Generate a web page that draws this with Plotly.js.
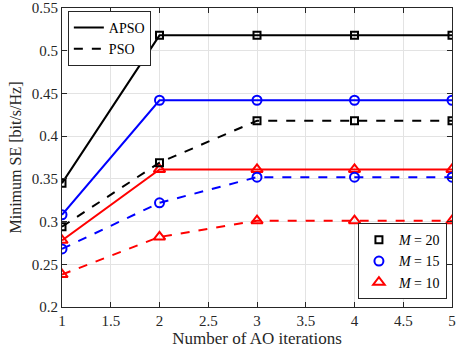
<!DOCTYPE html>
<html>
<head>
<meta charset="utf-8">
<script src="https://cdn.plot.ly/plotly-3.0.1.min.js"></script>
<style>body{margin:0;padding:0;background:#fff}#chart{width:456px;height:356px}</style>
</head>
<body>
<div id="chart"></div>
<script>
const iterations = [1, 2, 3, 4, 5];
const apsoM20 = [0.345, 0.518, 0.518, 0.518, 0.518];
const apsoM15 = [0.308, 0.442, 0.442, 0.442, 0.442];
const apsoM10 = [0.278, 0.361, 0.361, 0.361, 0.361];
const psoM20 = [0.294, 0.369, 0.418, 0.418, 0.418];
const psoM15 = [0.268, 0.322, 0.352, 0.352, 0.352];
const psoM10 = [0.238, 0.282, 0.301, 0.301, 0.301];
const xTicks = [1, 1.5, 2, 2.5, 3, 3.5, 4, 4.5, 5];
const xTickText = ['1', '1.5', '2', '2.5', '3', '3.5', '4', '4.5', '5'];
const yTicks = [0.2, 0.25, 0.3, 0.35, 0.4, 0.45, 0.5, 0.55];
const yTickText = ['0.2', '0.25', '0.3', '0.35', '0.4', '0.45', '0.5', '0.55'];

const font = 'Liberation Serif, Times New Roman, serif';
function series(y, color, dash, symbol, size) {
  return {x: iterations, y: y, mode: 'lines+markers', showlegend: false,
    line: {color: color, width: 2, dash: dash},
    marker: {symbol: symbol, size: size, color: color, line: {color: color, width: 2}}};
}
const traces = [
  series(apsoM20, 'black', 'solid', 'square-open', 7),
  series(apsoM15, 'blue', 'solid', 'circle-open', 9),
  series(apsoM10, 'red', 'solid', 'triangle-up-open', 10),
  series(psoM20, 'black', 'dash', 'square-open', 7),
  series(psoM15, 'blue', 'dash', 'circle-open', 9),
  series(psoM10, 'red', 'dash', 'triangle-up-open', 10),
  {x: [null], y: [null], mode: 'lines', name: 'APSO', legend: 'legend', line: {color: 'black', width: 2}},
  {x: [null], y: [null], mode: 'lines', name: 'PSO', legend: 'legend', line: {color: 'black', width: 2, dash: 'dash'}},
  {x: [null], y: [null], mode: 'markers', name: '<i>M</i> = 20', legend: 'legend2', marker: {symbol: 'square-open', size: 7, color: 'black', line: {color: 'black', width: 2}}},
  {x: [null], y: [null], mode: 'markers', name: '<i>M</i> = 15', legend: 'legend2', marker: {symbol: 'circle-open', size: 9, color: 'blue', line: {color: 'blue', width: 2}}},
  {x: [null], y: [null], mode: 'markers', name: '<i>M</i> = 10', legend: 'legend2', marker: {symbol: 'triangle-up-open', size: 10, color: 'red', line: {color: 'red', width: 2}}}
];
const axisCommon = {
  showline: true, linecolor: '#262626', linewidth: 1, mirror: 'ticks',
  ticks: 'inside', ticklen: 5, tickcolor: '#262626',
  showgrid: true, gridcolor: '#e3e3e3', gridwidth: 1, zeroline: false,
  ticklabeloverflow: 'allow',
  tickfont: {family: font, size: 15, color: '#262626'}
};
const layout = {
  width: 456, height: 356,
  margin: {l: 62, r: 4, t: 8, b: 49},
  paper_bgcolor: 'white', plot_bgcolor: 'white',
  font: {family: font, color: '#262626'},
  xaxis: Object.assign({}, axisCommon, {range: [1, 5], tickvals: xTicks, ticktext: xTickText,
    title: {text: 'Number of AO iterations', font: {family: font, size: 17, color: '#262626'}, standoff: 3}}),
  yaxis: Object.assign({}, axisCommon, {range: [0.2, 0.55], tickvals: yTicks, ticktext: yTickText,
    title: {text: 'Minimum SE [bit/s/Hz]', font: {family: font, size: 16, color: '#262626'}, standoff: 6}}),
  legend: {x: 0.015, y: 0.99, xanchor: 'left', yanchor: 'top', bgcolor: 'white',
    bordercolor: '#262626', borderwidth: 1, font: {family: font, size: 14, color: 'black'},
    tracegroupgap: 0, itemwidth: 30},
  legend2: {x: 0.987, y: 0.026, xanchor: 'right', yanchor: 'bottom', bgcolor: 'white',
    bordercolor: '#262626', borderwidth: 1, font: {family: font, size: 14, color: 'black'},
    tracegroupgap: 0, itemwidth: 30}
};
Plotly.newPlot('chart', traces, layout, {displayModeBar: false, staticPlot: true});
</script>
</body>
</html>
